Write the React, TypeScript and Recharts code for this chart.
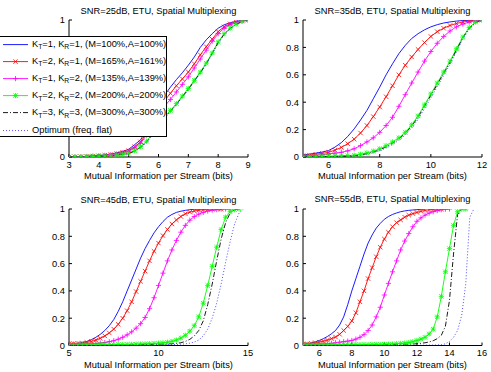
import React from "react";
import { LineChart, Line, XAxis, YAxis } from "recharts";

// ---------- data (CDF values) ----------
// SNR = 25 dB
const x25 = [3, 3.2, 3.4, 3.6, 3.8, 4, 4.2, 4.4, 4.6, 4.8, 5, 5.2, 5.4, 5.6, 5.8, 6, 6.2, 6.4, 6.6, 6.8, 7, 7.2, 7.4, 7.6, 7.8, 8, 8.2, 8.4, 8.6, 8.8, 9];
const s25k11 = [0, 0.001, 0.003, 0.005, 0.008, 0.011, 0.015, 0.021, 0.03, 0.041, 0.056, 0.09, 0.125, 0.2, 0.29, 0.37, 0.45, 0.51, 0.565, 0.615, 0.67, 0.73, 0.8, 0.855, 0.9, 0.94, 0.965, 0.98, 0.99, 0.997, 1];
const s25k21 = [0, 0.001, 0.002, 0.004, 0.007, 0.009, 0.013, 0.018, 0.025, 0.034, 0.046, 0.075, 0.11, 0.175, 0.255, 0.33, 0.41, 0.465, 0.52, 0.57, 0.62, 0.68, 0.745, 0.805, 0.86, 0.915, 0.95, 0.972, 0.986, 0.995, 1];
const s25k12 = [0, 0.001, 0.002, 0.004, 0.006, 0.008, 0.012, 0.016, 0.022, 0.03, 0.041, 0.066, 0.1, 0.16, 0.235, 0.3, 0.37, 0.42, 0.475, 0.53, 0.585, 0.65, 0.715, 0.78, 0.845, 0.9, 0.94, 0.965, 0.982, 0.993, 1];
const s25k22 = [0, 0.001, 0.001, 0.002, 0.004, 0.005, 0.007, 0.01, 0.014, 0.02, 0.027, 0.045, 0.075, 0.115, 0.17, 0.23, 0.29, 0.34, 0.39, 0.445, 0.5, 0.56, 0.62, 0.685, 0.76, 0.84, 0.9, 0.94, 0.97, 0.99, 1];
const s25k33 = [0, 0.001, 0.001, 0.002, 0.003, 0.005, 0.007, 0.009, 0.013, 0.019, 0.026, 0.043, 0.072, 0.11, 0.165, 0.225, 0.285, 0.335, 0.385, 0.44, 0.495, 0.555, 0.615, 0.68, 0.755, 0.835, 0.895, 0.937, 0.968, 0.988, 1];
const s25opt = [0, 0.001, 0.001, 0.002, 0.003, 0.004, 0.006, 0.009, 0.012, 0.018, 0.024, 0.04, 0.068, 0.105, 0.16, 0.22, 0.28, 0.33, 0.38, 0.435, 0.49, 0.55, 0.61, 0.675, 0.75, 0.83, 0.89, 0.935, 0.966, 0.987, 1];

// SNR = 35 dB
const x35 = [5, 5.25, 5.5, 5.75, 6, 6.25, 6.5, 6.75, 7, 7.25, 7.5, 7.75, 8, 8.25, 8.5, 8.75, 9, 9.25, 9.5, 9.75, 10, 10.25, 10.5, 10.75, 11, 11.25, 11.5, 11.75, 12];
const s35k11 = [0.015, 0.02, 0.028, 0.036, 0.047, 0.072, 0.105, 0.15, 0.205, 0.27, 0.34, 0.425, 0.51, 0.6, 0.68, 0.755, 0.815, 0.865, 0.9, 0.928, 0.95, 0.966, 0.978, 0.986, 0.992, 0.996, 0.998, 0.999, 1];
const s35k21 = [0.01, 0.014, 0.02, 0.026, 0.034, 0.05, 0.07, 0.097, 0.13, 0.175, 0.23, 0.295, 0.365, 0.44, 0.52, 0.6, 0.67, 0.73, 0.785, 0.835, 0.88, 0.915, 0.94, 0.96, 0.975, 0.985, 0.992, 0.997, 1];
const s35k12 = [0.005, 0.008, 0.012, 0.017, 0.022, 0.028, 0.034, 0.045, 0.06, 0.083, 0.11, 0.14, 0.18, 0.23, 0.29, 0.37, 0.455, 0.54, 0.62, 0.7, 0.77, 0.83, 0.88, 0.92, 0.95, 0.97, 0.985, 0.995, 1];
const s35k22 = [0.002, 0.003, 0.004, 0.005, 0.006, 0.007, 0.008, 0.01, 0.013, 0.02, 0.03, 0.043, 0.06, 0.083, 0.11, 0.14, 0.18, 0.235, 0.3, 0.38, 0.46, 0.54, 0.62, 0.7, 0.79, 0.875, 0.945, 0.985, 1];
const s35k33 = [0.001, 0.001, 0.002, 0.002, 0.003, 0.004, 0.005, 0.007, 0.009, 0.015, 0.024, 0.036, 0.052, 0.074, 0.1, 0.132, 0.172, 0.226, 0.29, 0.37, 0.45, 0.53, 0.61, 0.69, 0.78, 0.87, 0.94, 0.982, 1];
const s35opt = [0, 0.001, 0.001, 0.002, 0.002, 0.003, 0.004, 0.005, 0.007, 0.012, 0.02, 0.031, 0.046, 0.066, 0.091, 0.122, 0.16, 0.212, 0.275, 0.352, 0.432, 0.513, 0.595, 0.677, 0.768, 0.86, 0.935, 0.98, 1];

// SNR = 45 dB
const x45 = [5, 5.25, 5.5, 5.75, 6, 6.25, 6.5, 6.75, 7, 7.25, 7.5, 7.75, 8, 8.25, 8.5, 8.75, 9, 9.25, 9.5, 9.75, 10, 10.25, 10.5, 10.75, 11, 11.25, 11.5, 11.75, 12, 12.25, 12.5, 12.75, 13, 13.25, 13.5, 13.75, 14, 14.25, 14.5, 14.75, 15];
const s45k11 = [0.01, 0.012, 0.015, 0.021, 0.03, 0.043, 0.06, 0.082, 0.11, 0.145, 0.19, 0.25, 0.32, 0.4, 0.48, 0.56, 0.64, 0.71, 0.77, 0.825, 0.87, 0.908, 0.94, 0.96, 0.975, 0.984, 0.99, 0.995, 0.998, 0.999, 1];
const s45k21 = [0.012, 0.013, 0.015, 0.018, 0.022, 0.03, 0.04, 0.053, 0.07, 0.092, 0.12, 0.155, 0.2, 0.255, 0.32, 0.395, 0.47, 0.545, 0.62, 0.69, 0.75, 0.805, 0.85, 0.89, 0.92, 0.945, 0.965, 0.977, 0.985, 0.991, 0.995, 0.998, 0.999, 1, 1];
const s45k12 = [0.01, 0.01, 0.011, 0.011, 0.012, 0.013, 0.015, 0.018, 0.022, 0.028, 0.035, 0.046, 0.06, 0.078, 0.1, 0.127, 0.16, 0.205, 0.27, 0.35, 0.44, 0.53, 0.62, 0.7, 0.77, 0.83, 0.88, 0.918, 0.945, 0.962, 0.975, 0.985, 0.992, 0.996, 0.999, 1, 1];
const s45k22 = [0.003, 0.003, 0.003, 0.004, 0.004, 0.004, 0.005, 0.005, 0.005, 0.006, 0.006, 0.007, 0.007, 0.008, 0.009, 0.01, 0.011, 0.012, 0.013, 0.015, 0.017, 0.02, 0.024, 0.03, 0.04, 0.055, 0.075, 0.105, 0.145, 0.21, 0.31, 0.44, 0.58, 0.72, 0.85, 0.94, 0.98, 0.995, 1];
const s45k33 = [0.001, 0.001, 0.001, 0.001, 0.001, 0.001, 0.002, 0.002, 0.002, 0.002, 0.003, 0.003, 0.003, 0.004, 0.004, 0.005, 0.005, 0.006, 0.007, 0.008, 0.009, 0.01, 0.011, 0.013, 0.015, 0.02, 0.03, 0.045, 0.07, 0.11, 0.18, 0.3, 0.45, 0.62, 0.78, 0.9, 0.97, 0.995, 1];
const s45opt = [0, 0, 0, 0, 0, 0, 0.001, 0.001, 0.001, 0.001, 0.001, 0.001, 0.002, 0.002, 0.002, 0.002, 0.003, 0.003, 0.003, 0.004, 0.004, 0.005, 0.006, 0.007, 0.008, 0.01, 0.012, 0.017, 0.025, 0.04, 0.07, 0.12, 0.2, 0.31, 0.45, 0.61, 0.76, 0.89, 0.97, 1];

// SNR = 55 dB
const x55 = [5, 5.25, 5.5, 5.75, 6, 6.25, 6.5, 6.75, 7, 7.25, 7.5, 7.75, 8, 8.25, 8.5, 8.75, 9, 9.25, 9.5, 9.75, 10, 10.25, 10.5, 10.75, 11, 11.25, 11.5, 11.75, 12, 12.25, 12.5, 12.75, 13, 13.25, 13.5, 13.75, 14, 14.25, 14.5, 14.75, 15, 15.25, 15.5, 15.75, 16];
const s55k11 = [0.01, 0.013, 0.018, 0.026, 0.037, 0.05, 0.066, 0.086, 0.11, 0.15, 0.21, 0.3, 0.4, 0.49, 0.58, 0.67, 0.75, 0.81, 0.86, 0.895, 0.925, 0.945, 0.96, 0.971, 0.98, 0.986, 0.99, 0.993, 0.995, 0.998, 1];
const s55k21 = [0.01, 0.012, 0.015, 0.02, 0.025, 0.032, 0.04, 0.05, 0.062, 0.082, 0.11, 0.14, 0.18, 0.24, 0.32, 0.4, 0.49, 0.57, 0.65, 0.72, 0.78, 0.83, 0.87, 0.9, 0.92, 0.94, 0.955, 0.966, 0.975, 0.983, 0.99, 0.995, 0.997, 0.999, 1];
const s55k12 = [0.008, 0.008, 0.009, 0.009, 0.01, 0.011, 0.013, 0.016, 0.02, 0.024, 0.028, 0.032, 0.037, 0.047, 0.06, 0.08, 0.11, 0.15, 0.21, 0.28, 0.37, 0.455, 0.54, 0.62, 0.7, 0.765, 0.82, 0.87, 0.91, 0.935, 0.955, 0.97, 0.98, 0.988, 0.995, 0.998, 1];
const s55k22 = [0.004, 0.004, 0.004, 0.004, 0.005, 0.005, 0.005, 0.005, 0.005, 0.006, 0.006, 0.006, 0.006, 0.007, 0.007, 0.007, 0.007, 0.008, 0.008, 0.008, 0.009, 0.01, 0.011, 0.013, 0.015, 0.018, 0.022, 0.028, 0.037, 0.047, 0.06, 0.085, 0.12, 0.21, 0.36, 0.54, 0.71, 0.88, 0.98, 1, 1];
const s55k33 = [0.001, 0.001, 0.001, 0.001, 0.001, 0.001, 0.002, 0.002, 0.002, 0.002, 0.002, 0.002, 0.003, 0.003, 0.003, 0.003, 0.004, 0.004, 0.004, 0.005, 0.005, 0.006, 0.006, 0.007, 0.008, 0.009, 0.01, 0.011, 0.013, 0.016, 0.02, 0.026, 0.035, 0.05, 0.075, 0.14, 0.33, 0.67, 0.96, 1];
const s55opt = [0, 0, 0, 0, 0, 0, 0, 0, 0, 0, 0, 0, 0, 0, 0, 0, 0, 0, 0, 0, 0, 0, 0, 0, 0.001, 0.001, 0.001, 0.001, 0.001, 0.002, 0.002, 0.003, 0.003, 0.004, 0.006, 0.012, 0.03, 0.06, 0.11, 0.22, 0.45, 0.94, 1];

// legend
const legendKT = [1, 2, 1, 2, 3];
const legendKR = [1, 1, 2, 2, 3];
const legendM = [100, 165, 135, 200, 300];
const legendA = [100, 161, 139, 200, 300];
const optimumLabel = "Optimum (freq. flat)";

const yTicks = [0, 0.2, 0.4, 0.6, 0.8, 1];
const xLabel = "Mutual Information per Stream (bits)";
const FONT = '"Liberation Sans", Arial, Helvetica, sans-serif';
const FS = 9.3;

type Mark = "none" | "x" | "plus" | "star";
const STYLES: { color: string; mark: Mark; dash?: string }[] = [
  { color: "#0000ff", mark: "none" },
  { color: "#ff0000", mark: "x" },
  { color: "#ff00ff", mark: "plus" },
  { color: "#00ff00", mark: "star" },
  { color: "#000000", mark: "none", dash: "5 2 1 2" },
  { color: "#3a3aff", mark: "none", dash: "1 2" },
];

const zip = (xs: number[], ys: number[]) => ys.map((y, i) => ({ x: xs[i], y }));

function markPath(kind: Mark, cx: number, cy: number) {
  const p = 2.6;
  const d = 2.2;
  let s = "";
  if (kind === "plus" || kind === "star")
    s += `M${cx - p},${cy}L${cx + p},${cy}M${cx},${cy - p}L${cx},${cy + p}`;
  if (kind === "x" || kind === "star")
    s += `M${cx - d},${cy - d}L${cx + d},${cy + d}M${cx - d},${cy + d}L${cx + d},${cy - d}`;
  return s;
}

const dotFor = (kind: Mark, color: string) =>
  kind === "none"
    ? false
    : (p: any) => {
        if (p.cx == null || p.cy == null) return <g key={p.index} />;
        return (
          <path
            key={p.index}
            d={markPath(kind, p.cx, p.cy)}
            stroke={color}
            strokeWidth={0.8}
            fill="none"
          />
        );
      };

type PanelProps = {
  left: number;
  top: number;
  width: number;
  height: number;
  margin: { top: number; right: number; bottom: number; left: number };
  xAxisHeight: number;
  domain: [number, number];
  ticks: number[];
  hideMidY?: boolean;
  series: { x: number; y: number }[][];
};

function Panel(props: PanelProps) {
  const { left, top, width, height, margin, xAxisHeight, domain, ticks, hideMidY, series } = props;
  const tickStyle = { fontSize: FS, fill: "#000", fontFamily: FONT };
  return (
    <div style={{ position: "absolute", left, top }}>
      <LineChart width={width} height={height} margin={margin}>
        <XAxis
          xAxisId="b"
          type="number"
          dataKey="x"
          domain={domain}
          ticks={ticks}
          allowDataOverflow
          height={xAxisHeight}
          tickSize={-3}
          tickMargin={7}
          tick={tickStyle}
          stroke="#000"
          interval={0}
        />
        <XAxis
          xAxisId="t"
          orientation="top"
          type="number"
          dataKey="x"
          domain={domain}
          ticks={ticks}
          allowDataOverflow
          height={0}
          tickSize={-3}
          tick={false}
          stroke="#000"
          interval={0}
        />
        <YAxis
          yAxisId="l"
          type="number"
          domain={[0, 1]}
          ticks={yTicks}
          allowDataOverflow
          width={40}
          tickSize={-3}
          tickMargin={7}
          tick={tickStyle}
          tickFormatter={(v: number) => (hideMidY && v > 0 && v < 1 ? "" : String(v))}
          stroke="#000"
          interval={0}
        />
        <YAxis
          yAxisId="r"
          orientation="right"
          type="number"
          domain={[0, 1]}
          ticks={yTicks}
          allowDataOverflow
          width={0}
          tickSize={-3}
          tick={false}
          stroke="#000"
          interval={0}
        />
        {series.map((d, i) => (
          <Line
            key={i}
            xAxisId="b"
            yAxisId="l"
            data={d}
            dataKey="y"
            type="linear"
            stroke={STYLES[i].color}
            strokeWidth={0.9}
            strokeDasharray={STYLES[i].dash}
            dot={dotFor(STYLES[i].mark, STYLES[i].color)}
            activeDot={false}
            isAnimationActive={false}
          />
        ))}
      </LineChart>
    </div>
  );
}

function Caption({ text, cx, cy }: { text: string; cx: number; cy: number }) {
  return (
    <div
      style={{
        position: "absolute",
        left: cx - 120,
        top: cy - 6,
        width: 240,
        height: 12,
        lineHeight: "12px",
        textAlign: "center",
        fontSize: FS,
        fontFamily: FONT,
        whiteSpace: "nowrap",
      }}
    >
      {text}
    </div>
  );
}

const Sub = ({ c }: { c: string }) => (
  <span style={{ fontSize: 6.8, position: "relative", top: 2.5 }}>{c}</span>
);

function Legend() {
  const rows = legendKT.map((kt, i) => (
    <span>
      K<Sub c="T" />={kt}, K<Sub c="R" />={legendKR[i]}, (M={legendM[i]}%,A={legendA[i]}%)
    </span>
  ));
  rows.push(<span>{optimumLabel}</span>);
  return (
    <div
      style={{
        position: "absolute",
        left: -1,
        top: 36,
        width: 168,
        height: 101,
        boxSizing: "border-box",
        border: "1px solid #000",
        background: "#fff",
        fontFamily: FONT,
        fontSize: FS,
      }}
    >
      {rows.map((r, i) => {
        const st = STYLES[i];
        return (
          <div
            key={i}
            style={{
              position: "absolute",
              left: 0,
              top: i * 17.2 - 1.5,
              height: 17.2,
              width: 166,
              lineHeight: "17.2px",
              whiteSpace: "nowrap",
            }}
          >
            <svg width={30} height={17} style={{ position: "absolute", left: 0, top: 0 }}>
              <line
                x1={3}
                x2={28}
                y1={8.6}
                y2={8.6}
                stroke={st.color}
                strokeWidth={0.9}
                strokeDasharray={st.dash}
              />
              {st.mark !== "none" && (
                <path d={markPath(st.mark, 15.5, 8.6)} stroke={st.color} strokeWidth={0.8} fill="none" />
              )}
            </svg>
            <div style={{ position: "absolute", left: 32, top: 0 }}>{r}</div>
          </div>
        );
      })}
    </div>
  );
}

const panels = [
  { x: x25, s: [s25k11, s25k21, s25k12, s25k22, s25k33, s25opt], domain: [3, 9] as [number, number], ticks: [3, 4, 5, 6, 7, 8, 9], title: "SNR=25dB, ETU, Spatial Multiplexing" },
  { x: x35, s: [s35k11, s35k21, s35k12, s35k22, s35k33, s35opt], domain: [5, 12] as [number, number], ticks: [6, 8, 10, 12], title: "SNR=35dB, ETU, Spatial Multiplexing" },
  { x: x45, s: [s45k11, s45k21, s45k12, s45k22, s45k33, s45opt], domain: [5, 15] as [number, number], ticks: [5, 10, 15], title: "SNR=45dB, ETU, Spatial Multiplexing" },
  { x: x55, s: [s55k11, s55k21, s55k12, s55k22, s55k33, s55opt], domain: [5, 16] as [number, number], ticks: [6, 8, 10, 12, 14, 16], title: "SNR=55dB, ETU, Spatial Multiplexing" },
];

const LAYOUT = [
  { left: 0, top: 0, width: 258, margin: { top: 20, right: 10, bottom: 0, left: 29 }, xh: 29, cx: 158.5, ty: 11, ly: 175.7 },
  { left: 250, top: 0, width: 241, margin: { top: 20, right: 9, bottom: 0, left: 13 }, xh: 29, cx: 392.5, ty: 10.5, ly: 175.7 },
  { left: 0, top: 186, width: 258, margin: { top: 23, right: 10, bottom: 0, left: 29 }, xh: 26.5, cx: 158.5, ty: 199.5, ly: 364.5 },
  { left: 250, top: 186, width: 241, margin: { top: 23, right: 9, bottom: 0, left: 13 }, xh: 26.5, cx: 392.5, ty: 199, ly: 364.5 },
];

export default function App() {
  return (
    <div
      style={{
        position: "absolute",
        left: 0,
        top: 0,
        width: 491,
        height: 372,
        background: "#fff",
        overflow: "hidden",
        fontFamily: FONT,
      }}
    >
      {panels.map((p, i) => {
        const l = LAYOUT[i];
        return (
          <React.Fragment key={i}>
            <Panel
              left={l.left}
              top={l.top}
              width={l.width}
              height={186}
              margin={l.margin}
              xAxisHeight={l.xh}
              domain={p.domain}
              ticks={p.ticks}
              hideMidY={i === 0}
              series={p.s.map((ys) => zip(p.x, ys))}
            />
            <Caption text={p.title} cx={l.cx} cy={l.ty} />
            <Caption text={xLabel} cx={l.cx} cy={l.ly} />
          </React.Fragment>
        );
      })}
      <Legend />
    </div>
  );
}
